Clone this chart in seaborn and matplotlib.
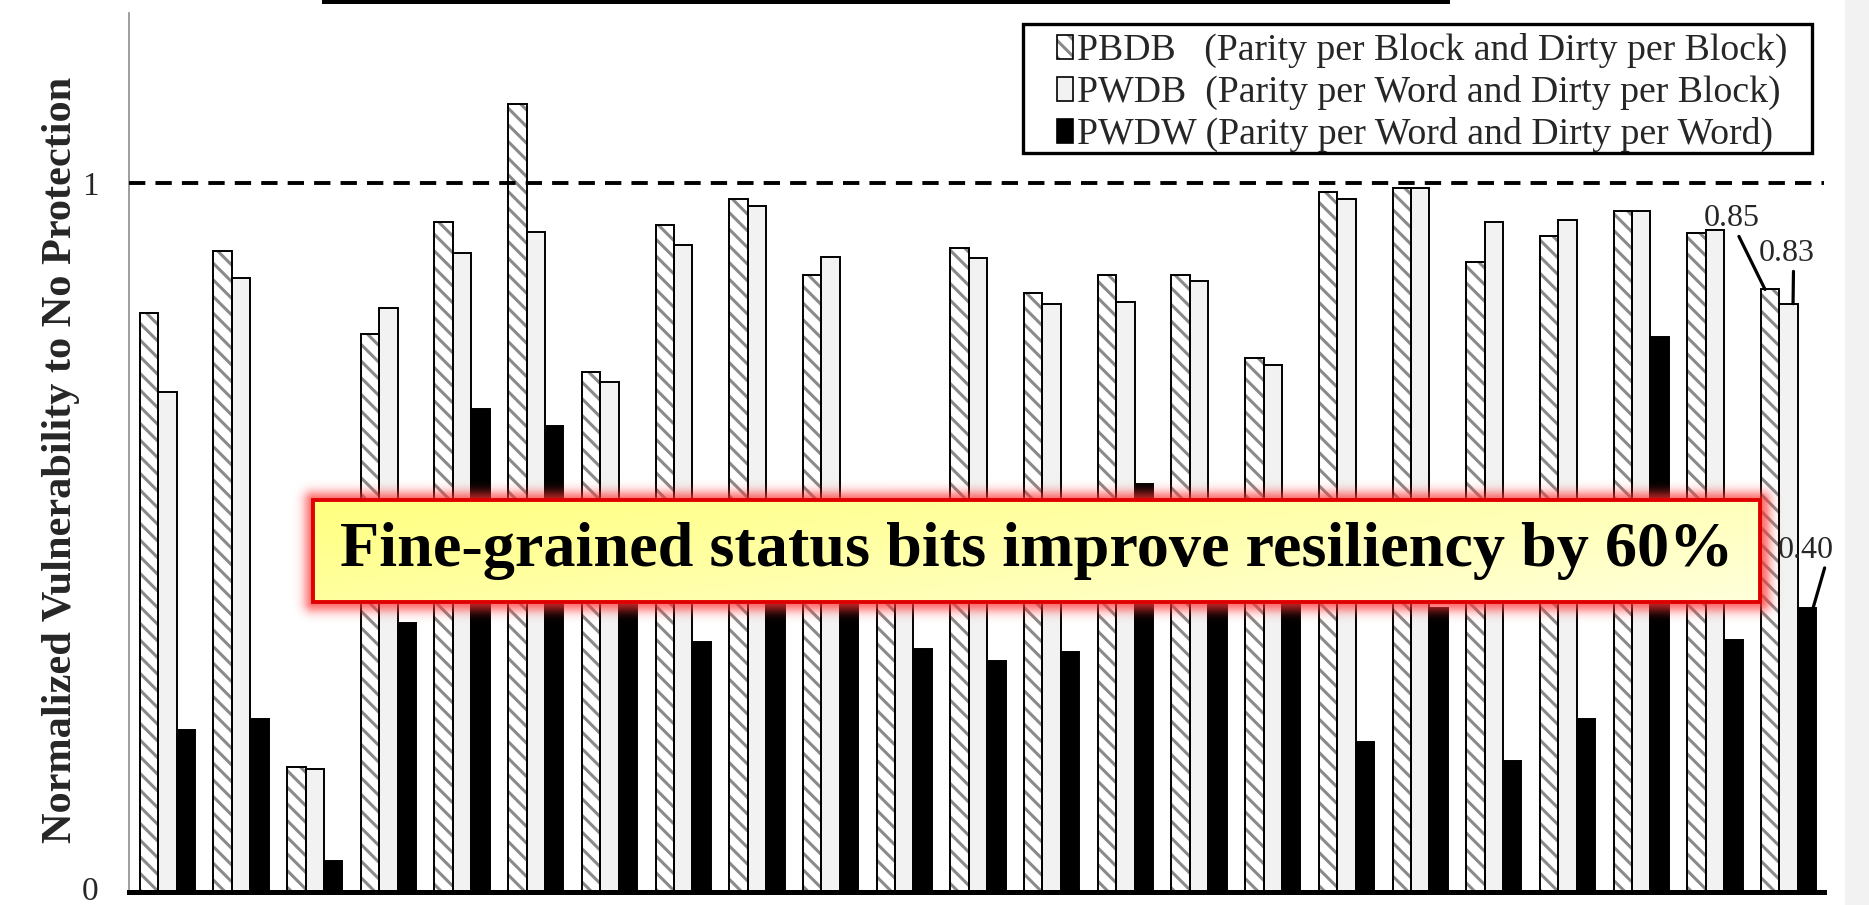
import numpy as np
import pandas as pd
import matplotlib
matplotlib.use("Agg")
import matplotlib.pyplot as plt
from matplotlib.patches import Patch, Rectangle
from matplotlib.transforms import ScaledTranslation
import seaborn as sns

# ---- data -----------------------------------------------------------------
benchmarks = [f"b{i:02d}" for i in range(1, 24)]
schemes = ["PBDB", "PWDB", "PWDW"]
legend_labels = [
    "PBDB   (Parity per Block and Dirty per Block)",
    "PWDB  (Parity per Word and Dirty per Block)",
    "PWDW (Parity per Word and Dirty per Word)",
]
pbdb = [0.817, 0.904, 0.176, 0.787, 0.945, 1.111, 0.733, 0.941, 0.978, 0.871,
        0.500, 0.909, 0.845, 0.871, 0.871, 0.753, 0.987, 0.993, 0.889, 0.926,
        0.960, 0.929, 0.85]
pwdb = [0.706, 0.866, 0.173, 0.824, 0.901, 0.931, 0.719, 0.913, 0.968, 0.896,
        0.480, 0.894, 0.830, 0.832, 0.862, 0.743, 0.978, 0.993, 0.945, 0.948,
        0.960, 0.934, 0.83]
pwdw = [0.229, 0.244, 0.044, 0.380, 0.681, 0.657, 0.470, 0.353, 0.500, 0.490,
        0.343, 0.326, 0.339, 0.576, 0.480, 0.551, 0.212, 0.400, 0.185, 0.244,
        0.783, 0.356, 0.40]
ytick_values = [0, 1]
ytick_labels = ["0", "1"]
y_label = "Normalized Vulnerability to No Protection"
callout = "Fine-grained status bits improve resiliency by 60%"

df = pd.DataFrame({
    "benchmark": benchmarks * 3,
    "scheme": np.repeat(schemes, len(benchmarks)),
    "value": pbdb + pwdb + pwdw,
})

# ---- style ----------------------------------------------------------------
sns.set_theme(style="white")
plt.rcParams["font.family"] = ["Liberation Serif", "DejaVu Serif"]
plt.rcParams["hatch.linewidth"] = 2.2

W, H = 1869, 905
fig = plt.figure(figsize=(W / 100, H / 100), dpi=100)
fig.patch.set_facecolor("white")


def fx(px):
    return px / W


def fh(px):
    return px / H


ax = fig.add_axes([fx(129), fh(13), fx(1824 - 129), fh(892 - 13)])
sns.barplot(data=df, x="benchmark", y="value", hue="scheme", hue_order=schemes,
            palette={"PBDB": "white", "PWDB": "#f2f2f2", "PWDW": "black"},
            width=0.75, edgecolor="black", linewidth=1.4, saturation=1,
            errorbar=None, legend=False, ax=ax)

HATCH = "\\\\"
STRIPE = "#8a8a8a"
# hatched series: grey stripes plus a black outline on top
for bar in ax.containers[0]:
    bar.set_hatch(HATCH)
    bar.set_edgecolor(STRIPE)
    bar.set_linewidth(0)
    ax.add_patch(Rectangle(bar.get_xy(), bar.get_width(), bar.get_height(),
                           fill=False, ec="black", lw=1.4,
                           zorder=bar.get_zorder() + 0.1))

ax.set_xlim(-0.52, 22.48)
ax.set_ylim(0, 1.24)
ax.set_xticks([])
ax.set_xlabel("")
ax.set_yticks(ytick_values)
ax.set_yticklabels(ytick_labels)
ax.tick_params(axis="y", length=0, pad=22, labelsize=24)
# keep the baseline label inside the canvas
ax.get_yticklabels()[0].set_transform(
    ax.get_yticklabels()[0].get_transform() + ScaledTranslation(0, 4 / 100, fig.dpi_scale_trans))
for s in ("top", "right"):
    ax.spines[s].set_visible(False)
ax.spines["left"].set_color("#8c8c8c")
ax.spines["left"].set_linewidth(1.2)
ax.spines["bottom"].set_color("black")
ax.spines["bottom"].set_linewidth(3.6)
ax.set_ylabel(y_label, fontsize=30.5, fontweight="bold")
ax.yaxis.label.set_verticalalignment("center")
ax.yaxis.set_label_coords(-0.040, 0.491)

# "no protection" reference level
ax.axhline(1.0, color="black", lw=2.8, ls=(0, (4.2, 2.6)), zorder=5)

# value call-outs for the last group
last = len(benchmarks) - 1
callouts = [
    (last - 0.32, pbdb[last], (-24, 51), (0.6, 0.0)),
    (last + 0.06, pwdb[last], (-4.5, 36), (0.62, 0.0)),
    (last + 0.33, pwdw[last], (-5, 42), (0.85, 0.0)),
]
for x, v, off, rel in callouts:
    ax.annotate(f"{v:.2f}", xy=(x, v), xytext=off, textcoords="offset points",
                ha="center", va="center", fontsize=23, zorder=7,
                arrowprops=dict(arrowstyle="-", lw=2.3, color="black",
                                shrinkA=0, shrinkB=0, relpos=rel))

# ---- legend ---------------------------------------------------------------
handles = [
    (Patch(facecolor="white", hatch=HATCH, edgecolor=STRIPE, lw=0),
     Patch(fill=False, edgecolor="black", lw=1.2)),
    Patch(facecolor="#f2f2f2", edgecolor="black", lw=1.2),
    Patch(facecolor="black", edgecolor="black", lw=1.2),
]
fig.legend(handles, legend_labels, loc="upper left",
           bbox_to_anchor=(fx(1057), 1 - fh(33)), bbox_transform=fig.transFigure,
           frameon=False, fontsize=27.2, handlelength=0.42, handleheight=0.6,
           handletextpad=0.1, labelspacing=0.18, borderpad=0, borderaxespad=0)
fig.add_artist(Rectangle((fx(1023), 1 - fh(153)), fx(1812 - 1023), fh(129),
                         transform=fig.transFigure, fill=False, ec="black", lw=2.4,
                         zorder=8))

# ---- call-out box with glow ----------------------------------------------
bx0, bx1, by0, by1 = 313, 1760, 500, 602      # pixel box (top-left origin)
m = 28
gw, gh = (bx1 - bx0) + 2 * m, (by1 - by0) + 2 * m
gx = np.arange(gw)[None, :]
gy = np.arange(gh)[:, None]
dx = np.maximum(np.maximum(m - gx, gx - (gw - m)), 0)
dy = np.maximum(np.maximum(m - gy, gy - (gh - m)), 0)
dist = np.hypot(dx, dy)
glow = np.zeros((gh, gw, 4))
glow[..., 0] = 1.0
glow[..., 1] = 0.2
glow[..., 2] = 0.2
glow[..., 3] = 0.7 * np.exp(-(dist / 10.0) ** 2)
gax = fig.add_axes([fx(bx0 - m), 1 - fh(by1 + m), fx(gw), fh(gh)])
gax.imshow(glow, extent=[0, 1, 0, 1], aspect="auto", interpolation="bilinear")
gax.set_axis_off()
gax.set_zorder(5)

bax = fig.add_axes([fx(bx0), 1 - fh(by1), fx(bx1 - bx0), fh(by1 - by0)])
u = np.linspace(0, 1, 300)[None, :]
v = np.linspace(0, 1, 60)[:, None]
t = np.clip(0.65 * u + 0.35 * v, 0, 1)
grad = np.zeros((60, 300, 3))
grad[..., 0] = 1.0
grad[..., 1] = 1.0
grad[..., 2] = 0.50 + 0.36 * t
bax.imshow(grad, extent=[0, 1, 0, 1], aspect="auto", interpolation="bilinear")
bax.add_patch(Rectangle((0, 0), 1, 1, transform=bax.transAxes, fill=False,
                        ec="#e00000", lw=2.8, clip_on=False))
bax.text(0.5, 0.5, callout, transform=bax.transAxes, ha="center", va="center",
         fontsize=46.2, fontweight="bold", color="black")
bax.set_axis_off()
bax.set_zorder(6)

# ---- page decorations -----------------------------------------------------
fig.add_artist(Rectangle((fx(322), 1 - fh(4)), fx(1450 - 322), fh(4),
                         transform=fig.transFigure, color="black", lw=0))
fig.add_artist(Rectangle((fx(1845), 0), fx(W - 1845), 1,
                         transform=fig.transFigure, color="#f2f2f2", lw=0))

fig.savefig("out.png", dpi=100)
